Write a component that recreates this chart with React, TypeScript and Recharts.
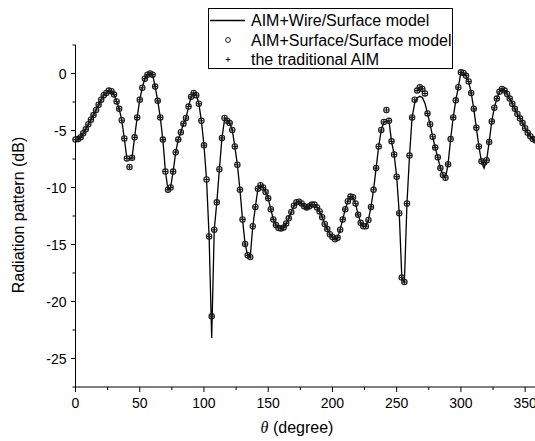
import { ComposedChart, Line, Scatter, XAxis, YAxis } from "recharts"

// sampling angle (degree)
const theta = [
  0, 2, 4, 6, 8, 10, 12, 14, 16, 18,
  20, 22, 24, 26, 28, 30, 32, 34, 36, 38,
  40, 42, 44, 46, 48, 50, 52, 54, 56, 58,
  60, 62, 64, 66, 68, 70, 72, 74, 76, 78,
  80, 82, 84, 86, 88, 90, 92, 94, 96, 98,
  100, 102, 104, 106, 108, 110, 112, 114, 116, 118,
  120, 122, 124, 126, 128, 130, 132, 134, 136, 138,
  140, 142, 144, 146, 148, 150, 152, 154, 156, 158,
  160, 162, 164, 166, 168, 170, 172, 174, 176, 178,
  180, 182, 184, 186, 188, 190, 192, 194, 196, 198,
  200, 202, 204, 206, 208, 210, 212, 214, 216, 218,
  220, 222, 224, 226, 228, 230, 232, 234, 236, 238,
  240, 242, 244, 246, 248, 250, 252, 254, 256, 258,
  260, 262, 264, 266, 268, 270, 272, 274, 276, 278,
  280, 282, 284, 286, 288, 290, 292, 294, 296, 298,
  300, 302, 304, 306, 308, 310, 312, 314, 316, 318,
  320, 322, 324, 326, 328, 330, 332, 334, 336, 338,
  340, 342, 344, 346, 348, 350, 352, 354, 356, 358,
  360,
]

// AIM+Wire/Surface model (solid line)
const wireDb = [
  -5.8, -5.75, -5.6, -5.25, -4.9, -4.45, -4.05, -3.65, -3.2, -2.75,
  -2.3, -1.9, -1.7, -1.5, -1.55, -1.85, -2.45, -3.1, -4.1, -5.7,
  -7.45, -7.5, -7.4, -5.6, -3.85, -2.3, -1.25, -0.45, -0.1, 0.0,
  -0.1, -1.15, -2.4, -3.85, -5.8, -8.6, -10.2, -10.0, -8.6, -6.9,
  -5.8, -5.15, -4.4, -3.9, -2.9, -2.05, -1.7, -1.9, -2.65, -4.15,
  -6.3, -9.3, -14.3, -23.2, -13.7, -11.3, -8.4, -5.65, -4.05, -4.15,
  -4.35, -4.95, -6.4, -8.0, -10.2, -12.8, -14.95, -15.95, -16.1, -13.4,
  -11.7, -10.1, -9.8, -10.0, -10.4, -10.95, -11.9, -12.8, -13.3, -13.55,
  -13.6, -13.5, -13.15, -12.7, -12.15, -11.6, -11.3, -11.25, -11.4, -11.65,
  -11.75, -11.65, -11.5, -11.5, -11.75, -12.1, -12.6, -13.2, -13.65, -14.1,
  -14.35, -14.55, -14.4, -13.7, -12.8, -11.9, -11.2, -10.8, -10.85, -11.4,
  -12.4, -13.1, -13.4, -13.4, -12.85, -11.7, -10.2, -8.3, -6.4, -4.95,
  -4.25, -4.2, -4.15, -5.95, -7.1, -9.05, -12.25, -17.9, -18.3, -11.4,
  -7.2, -3.85, -2.6, -2.15, -2.0, -2.1, -2.6, -3.5, -4.45, -5.55,
  -6.5, -7.35, -8.3, -8.9, -9.15, -7.95, -5.75, -3.85, -2.35, -1.2,
  0.1, 0.05, -0.2, -0.7, -1.7, -3.1, -4.75, -6.4, -7.75, -8.3,
  -7.6, -6.0, -4.2, -3.0, -2.2, -1.6, -1.35, -1.5, -1.8, -2.2,
  -2.65, -3.1, -3.55, -3.95, -4.35, -4.8, -5.2, -5.5, -5.75, -5.85,
  -5.9,
]

// AIM+Surface/Surface model (circles)
const surfDb = [
  -5.8, -5.75, -5.6, -5.25, -4.9, -4.45, -4.05, -3.65, -3.2, -2.75,
  -2.3, -1.9, -1.7, -1.5, -1.55, -1.85, -2.45, -3.1, -4.1, -5.7,
  -7.45, -8.2, -7.4, -5.6, -3.85, -2.3, -1.25, -0.45, -0.1, 0.0,
  -0.1, -1.15, -2.4, -3.85, -5.8, -8.6, -10.2, -10.0, -8.6, -6.9,
  -5.8, -5.15, -4.4, -3.9, -2.9, -2.05, -1.7, -1.9, -2.65, -4.15,
  -6.3, -9.3, -14.3, -21.3, -13.7, -11.3, -8.4, -5.65, -3.9, -4.15,
  -4.35, -4.95, -6.4, -8.0, -10.2, -12.8, -14.95, -15.95, -16.1, -13.4,
  -11.7, -10.1, -9.8, -10.0, -10.4, -10.95, -11.9, -12.8, -13.3, -13.55,
  -13.6, -13.5, -13.15, -12.7, -12.15, -11.6, -11.3, -11.25, -11.4, -11.65,
  -11.75, -11.65, -11.5, -11.5, -11.75, -12.1, -12.6, -13.2, -13.65, -14.1,
  -14.35, -14.55, -14.4, -13.7, -12.8, -11.9, -11.2, -10.8, -10.85, -11.4,
  -12.4, -13.1, -13.4, -13.4, -12.85, -11.7, -10.2, -8.3, -6.4, -4.95,
  -4.25, -3.2, -4.15, -5.95, -7.1, -9.05, -12.25, -17.9, -18.3, -11.4,
  -7.2, -3.85, -2.3, -1.5, -1.2, -1.35, -1.75, -3.5, -4.45, -5.55,
  -6.5, -7.35, -8.3, -8.9, -9.15, -7.95, -5.75, -3.85, -2.35, -1.2,
  0.1, 0.05, -0.2, -0.7, -1.7, -3.1, -4.75, -6.4, -7.7, -7.8,
  -7.6, -6.0, -4.2, -3.0, -2.2, -1.6, -1.35, -1.5, -1.8, -2.2,
  -2.65, -3.1, -3.55, -3.95, -4.35, -4.8, -5.2, -5.5, -5.75, -5.85,
  -5.9,
]

// the traditional AIM (plus signs) – coincides with the surface model
const tradDb = surfDb

const xTicks = [0, 25, 50, 75, 100, 125, 150, 175, 200, 225, 250, 275, 300, 325, 350]
const yTicks = [-27.5, -25, -22.5, -20, -17.5, -15, -12.5, -10, -7.5, -5, -2.5, 0, 2.5]

const rows = theta.map((t, i) => ({ theta: t, wire: wireDb[i], surf: surfDb[i], trad: tradDb[i] }))

const FONT = "'Liberation Sans', Arial, sans-serif"
const MARK = "#1a1a1a"

function XTick({ x, y, payload }: any) {
  const major = payload.value % 50 === 0
  return (
    <g>
      <line x1={x} y1={y} x2={x} y2={y + (major ? 5 : 3)} stroke="#000" />
      {major && (
        <text x={x} y={y + 21} textAnchor="middle" fontSize={14} fontFamily={FONT} fill="#000">
          {payload.value}
        </text>
      )}
    </g>
  )
}

function YTick({ x, y, payload }: any) {
  const major = payload.value % 5 === 0
  return (
    <g>
      <line x1={x} y1={y} x2={x - (major ? 4.5 : 3)} y2={y} stroke="#000" />
      {major && (
        <text x={x - 9} y={y + 5} textAnchor="end" fontSize={14} fontFamily={FONT} fill="#000">
          {payload.value}
        </text>
      )}
    </g>
  )
}

const Circle = (p: any) => <circle cx={p.cx} cy={p.cy} r={2.7} fill="none" stroke={MARK} strokeWidth={1.1} />
const Plus = (p: any) => (
  <path d={`M${p.cx - 2.5} ${p.cy} H${p.cx + 2.5} M${p.cx} ${p.cy - 2.5} V${p.cy + 2.5}`} stroke={MARK} strokeWidth={1.1} />
)

export default function App() {
  return (
    <div style={{ position: "absolute", left: 0, top: 0, width: 535, height: 441, overflow: "hidden", background: "#fff" }}>
      <ComposedChart width={545} height={441} data={rows} margin={{ top: 45, right: 7, bottom: 0, left: 0 }}>
        <XAxis
          dataKey="theta"
          type="number"
          domain={[0, 360]}
          ticks={xTicks}
          height={54}
          tickSize={0}
          tickMargin={0}
          tickLine={false}
          tick={<XTick />}
          interval={0}
          axisLine={{ stroke: "#000" }}
        />
        <YAxis
          type="number"
          domain={[-27.5, 2.5]}
          ticks={yTicks}
          width={75.5}
          tickSize={0}
          tickMargin={0}
          tickLine={false}
          tick={<YTick />}
          interval={0}
          allowDataOverflow
          axisLine={{ stroke: "#000" }}
        />
        <Line dataKey="wire" type="linear" stroke="#000" strokeWidth={1.3} dot={false} activeDot={false} isAnimationActive={false} />
        <Scatter dataKey="surf" shape={Circle} isAnimationActive={false} />
        <Scatter dataKey="trad" shape={Plus} isAnimationActive={false} />
      </ComposedChart>
      <svg width={535} height={441} style={{ position: "absolute", left: 0, top: 0, pointerEvents: "none" }} fontFamily={FONT}>
        <rect x={208.5} y={8.5} width={244} height={60} fill="#fff" stroke="#000" />
        <line x1={210} y1={20.5} x2={245} y2={20.5} stroke="#000" strokeWidth={1.3} />
        <text x={251} y={26} fontSize={16} fill="#000">AIM+Wire/Surface model</text>
        <circle cx={228} cy={40} r={2.4} fill="none" stroke={MARK} />
        <text x={251} y={45.5} fontSize={16} fill="#000">AIM+Surface/Surface model</text>
        <path d="M225.6 59.5 H230.4 M228 57.1 V61.9" stroke={MARK} />
        <text x={251} y={64.5} fontSize={16} fill="#000">the traditional AIM</text>
        <text transform="translate(24,215) rotate(-90)" textAnchor="middle" fontSize={16} fill="#000">
          Radiation pattern (dB)
        </text>
        <text x={297} y={433} textAnchor="middle" fontSize={16} fill="#000">
          <tspan fontFamily="'Liberation Serif', serif" fontStyle="italic">θ</tspan> (degree)
        </text>
      </svg>
    </div>
  )
}
